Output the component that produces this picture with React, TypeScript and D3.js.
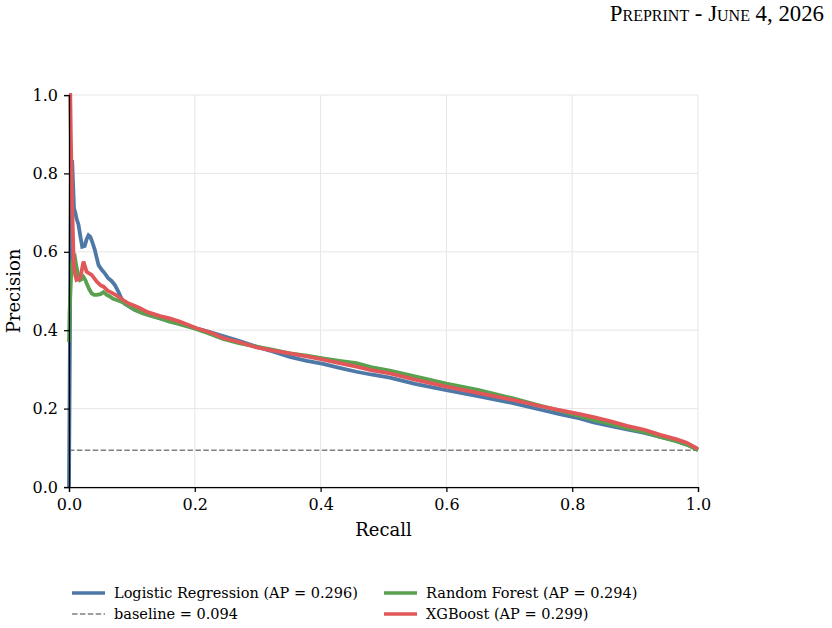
import { useRef, useEffect, useMemo } from "react";
import * as d3 from "d3";

// Precision-recall curves for three classifiers
const lrRecall = [0, 0.003, 0.005, 0.008, 0.010, 0.012, 0.015, 0.018, 0.021, 0.025, 0.028, 0.031, 0.034, 0.037, 0.041, 0.044, 0.047, 0.052, 0.057, 0.062, 0.068, 0.073, 0.078, 0.083, 0.088, 0.094, 0.104, 0.115, 0.13, 0.145, 0.16, 0.176, 0.19, 0.203, 0.22, 0.245, 0.27, 0.298, 0.325, 0.351, 0.378, 0.404, 0.43, 0.457, 0.48, 0.51, 0.55, 0.6, 0.65, 0.706, 0.75, 0.78, 0.812, 0.834, 0.86, 0.887, 0.915, 0.94, 0.965, 0.985, 1.0];
const lrPrecision = [0, 0.78, 0.834, 0.71, 0.70, 0.685, 0.67, 0.64, 0.613, 0.615, 0.632, 0.642, 0.638, 0.625, 0.605, 0.585, 0.566, 0.554, 0.545, 0.533, 0.525, 0.515, 0.50, 0.482, 0.468, 0.462, 0.452, 0.445, 0.437, 0.43, 0.423, 0.418, 0.41, 0.404, 0.397, 0.385, 0.373, 0.358, 0.345, 0.332, 0.322, 0.314, 0.304, 0.294, 0.287, 0.279, 0.263, 0.247, 0.232, 0.214, 0.197, 0.186, 0.175, 0.165, 0.156, 0.147, 0.138, 0.128, 0.118, 0.107, 0.094];

const rfRecall = [0, 0.001, 0.003, 0.005, 0.007, 0.0095, 0.012, 0.015, 0.0175, 0.020, 0.023, 0.026, 0.028, 0.032, 0.036, 0.040, 0.044, 0.05, 0.055, 0.06, 0.065, 0.07, 0.076, 0.081, 0.086, 0.092, 0.097, 0.105, 0.118, 0.13, 0.145, 0.16, 0.171, 0.185, 0.198, 0.22, 0.245, 0.27, 0.298, 0.325, 0.351, 0.378, 0.404, 0.43, 0.457, 0.48, 0.51, 0.55, 0.6, 0.65, 0.706, 0.75, 0.78, 0.812, 0.834, 0.86, 0.887, 0.915, 0.94, 0.965, 0.985, 1.0];
const rfPrecision = [0.37, 0.45, 0.53, 0.57, 0.579, 0.585, 0.56, 0.54, 0.528, 0.53, 0.536, 0.528, 0.52, 0.505, 0.494, 0.49, 0.49, 0.492, 0.497, 0.49, 0.486, 0.48, 0.477, 0.474, 0.471, 0.465, 0.46, 0.452, 0.443, 0.437, 0.43, 0.422, 0.417, 0.411, 0.405, 0.393, 0.378, 0.367, 0.358, 0.35, 0.341, 0.335, 0.328, 0.322, 0.316, 0.306, 0.297, 0.282, 0.264, 0.248, 0.226, 0.207, 0.195, 0.181, 0.171, 0.161, 0.15, 0.14, 0.128, 0.117, 0.106, 0.094];

const xgbRecall = [0, 0.002, 0.003, 0.004, 0.005, 0.006, 0.007, 0.008, 0.010, 0.012, 0.015, 0.018, 0.020, 0.023, 0.026, 0.028, 0.032, 0.036, 0.040, 0.044, 0.050, 0.055, 0.062, 0.07, 0.078, 0.086, 0.095, 0.105, 0.113, 0.125, 0.145, 0.16, 0.176, 0.19, 0.203, 0.225, 0.245, 0.27, 0.298, 0.325, 0.351, 0.378, 0.404, 0.43, 0.457, 0.48, 0.51, 0.55, 0.6, 0.65, 0.706, 0.75, 0.78, 0.812, 0.834, 0.86, 0.887, 0.915, 0.94, 0.965, 0.982, 1.0];
const xgbPrecision = [1.0, 1.0, 0.89, 0.80, 0.72, 0.66, 0.60, 0.56, 0.54, 0.528, 0.53, 0.535, 0.55, 0.575, 0.56, 0.549, 0.545, 0.541, 0.533, 0.524, 0.515, 0.511, 0.50, 0.494, 0.486, 0.477, 0.468, 0.462, 0.456, 0.446, 0.436, 0.43, 0.422, 0.413, 0.405, 0.394, 0.38, 0.37, 0.356, 0.348, 0.341, 0.333, 0.325, 0.316, 0.307, 0.298, 0.29, 0.274, 0.256, 0.24, 0.222, 0.206, 0.196, 0.186, 0.178, 0.168, 0.156, 0.146, 0.133, 0.122, 0.113, 0.097];

const seriesNames = ["Logistic Regression", "Random Forest", "XGBoost"];
const seriesAP = [0.296, 0.294, 0.299];
const seriesColors = ["#4e79a7", "#59a14f", "#e15759"];
const baselineRate = 0.094;
const axisTicks = [0, 0.2, 0.4, 0.6, 0.8, 1.0];

const W = 832;
const H = 628;
const MARGIN = { top: 95, right: 134, bottom: 141, left: 69 };
const FONT = "'DejaVu Serif', serif";

export default function App() {
  const xAxisRef = useRef<SVGGElement>(null);
  const yAxisRef = useRef<SVGGElement>(null);

  const innerW = W - MARGIN.left - MARGIN.right;
  const innerH = H - MARGIN.top - MARGIN.bottom;

  const x = useMemo(() => d3.scaleLinear().domain([0, 1]).range([0, innerW]), [innerW]);
  const y = useMemo(() => d3.scaleLinear().domain([0, 1]).range([innerH, 0]), [innerH]);

  const curves = useMemo(() => {
    const recalls = [lrRecall, rfRecall, xgbRecall];
    const precisions = [lrPrecision, rfPrecision, xgbPrecision];
    const line = d3
      .line<[number, number]>()
      .x((d) => x(d[0]))
      .y((d) => y(d[1]));
    return recalls.map((r, i) => line(r.map((v, j) => [v, precisions[i][j]] as [number, number])) ?? "");
  }, [x, y]);

  useEffect(() => {
    if (!xAxisRef.current || !yAxisRef.current) return;
    d3.select(xAxisRef.current)
      .call(d3.axisBottom(x).tickValues(axisTicks).tickFormat(d3.format(".1f")).tickSizeOuter(0).tickSize(5).tickPadding(7))
      .call((g) => g.select(".domain").attr("stroke", "#000").attr("stroke-width", 1.25))
      .call((g) => g.selectAll(".tick line").attr("stroke", "#000").attr("stroke-width", 1.25))
      .call((g) =>
        g.selectAll(".tick text").attr("fill", "#000").attr("font-size", 16).attr("font-family", FONT)
      );
    d3.select(yAxisRef.current)
      .call(d3.axisLeft(y).tickValues(axisTicks).tickFormat(d3.format(".1f")).tickSizeOuter(0).tickSize(5).tickPadding(6))
      .call((g) => g.select(".domain").attr("stroke", "#000").attr("stroke-width", 1.25))
      .call((g) => g.selectAll(".tick line").attr("stroke", "#000").attr("stroke-width", 1.25))
      .call((g) =>
        g.selectAll(".tick text").attr("fill", "#000").attr("font-size", 16).attr("font-family", FONT)
      );
  }, [x, y]);

  const legendItems = [
    { label: `${seriesNames[0]} (AP = ${seriesAP[0].toFixed(3)})`, color: seriesColors[0], dashed: false, col: 0, row: 0 },
    { label: `baseline = ${baselineRate.toFixed(3)}`, color: "#808080", dashed: true, col: 0, row: 1 },
    { label: `${seriesNames[1]} (AP = ${seriesAP[1].toFixed(3)})`, color: seriesColors[1], dashed: false, col: 1, row: 0 },
    { label: `${seriesNames[2]} (AP = ${seriesAP[2].toFixed(3)})`, color: seriesColors[2], dashed: false, col: 1, row: 1 },
  ];

  return (
    <div style={{ position: "absolute", left: 0, top: 0 }}>
      <svg width={W} height={H} style={{ display: "block", background: "#fff" }}>
        <text
          x={824}
          y={21}
          textAnchor="end"
          fontFamily="'Liberation Serif', 'Times New Roman', serif"
          fontSize={22.8}
          style={{ fontVariant: "small-caps" }}
        >
          Preprint - June 4, 2026
        </text>

        <g transform={`translate(${MARGIN.left},${MARGIN.top})`}>
          {/* grid */}
          {axisTicks.map((t) => (
            <g key={t}>
              <line x1={x(t)} x2={x(t)} y1={0} y2={innerH} stroke="#e6e6e6" strokeWidth={1} />
              <line x1={0} x2={innerW} y1={y(t)} y2={y(t)} stroke="#e6e6e6" strokeWidth={1} />
            </g>
          ))}

          {/* chance level */}
          <line
            x1={x(0)}
            x2={x(1)}
            y1={y(baselineRate)}
            y2={y(baselineRate)}
            stroke="#808080"
            strokeWidth={1.5}
            strokeDasharray="5.5 2.4"
          />

          {curves.map((d, i) => (
            <path
              key={seriesNames[i]}
              d={d}
              fill="none"
              stroke={seriesColors[i]}
              strokeWidth={3.8}
              strokeLinejoin="miter"
              strokeLinecap="butt"
            />
          ))}

          <g ref={xAxisRef} transform={`translate(0,${innerH})`} />
          <g ref={yAxisRef} />

          <text x={innerW / 2} y={innerH + 49} textAnchor="middle" fontFamily={FONT} fontSize={18}>
            Recall
          </text>
          <text
            transform={`translate(${-49},${innerH / 2}) rotate(-90)`}
            textAnchor="middle"
            fontFamily={FONT}
            fontSize={18}
          >
            Precision
          </text>
        </g>

        {/* legend */}
        <g>
          {legendItems.map((it) => {
            const lx = 72 + it.col * 312;
            const ly = 593 + it.row * 21;
            return (
              <g key={it.label}>
                <line
                  x1={lx}
                  x2={lx + 33}
                  y1={ly}
                  y2={ly}
                  stroke={it.color}
                  strokeWidth={it.dashed ? 1.5 : 3.5}
                  strokeDasharray={it.dashed ? "5.5 2.4" : undefined}
                />
                <text x={lx + 42} y={ly + 5} fontFamily={FONT} fontSize={14.5}>
                  {it.label}
                </text>
              </g>
            );
          })}
        </g>
      </svg>
    </div>
  );
}
